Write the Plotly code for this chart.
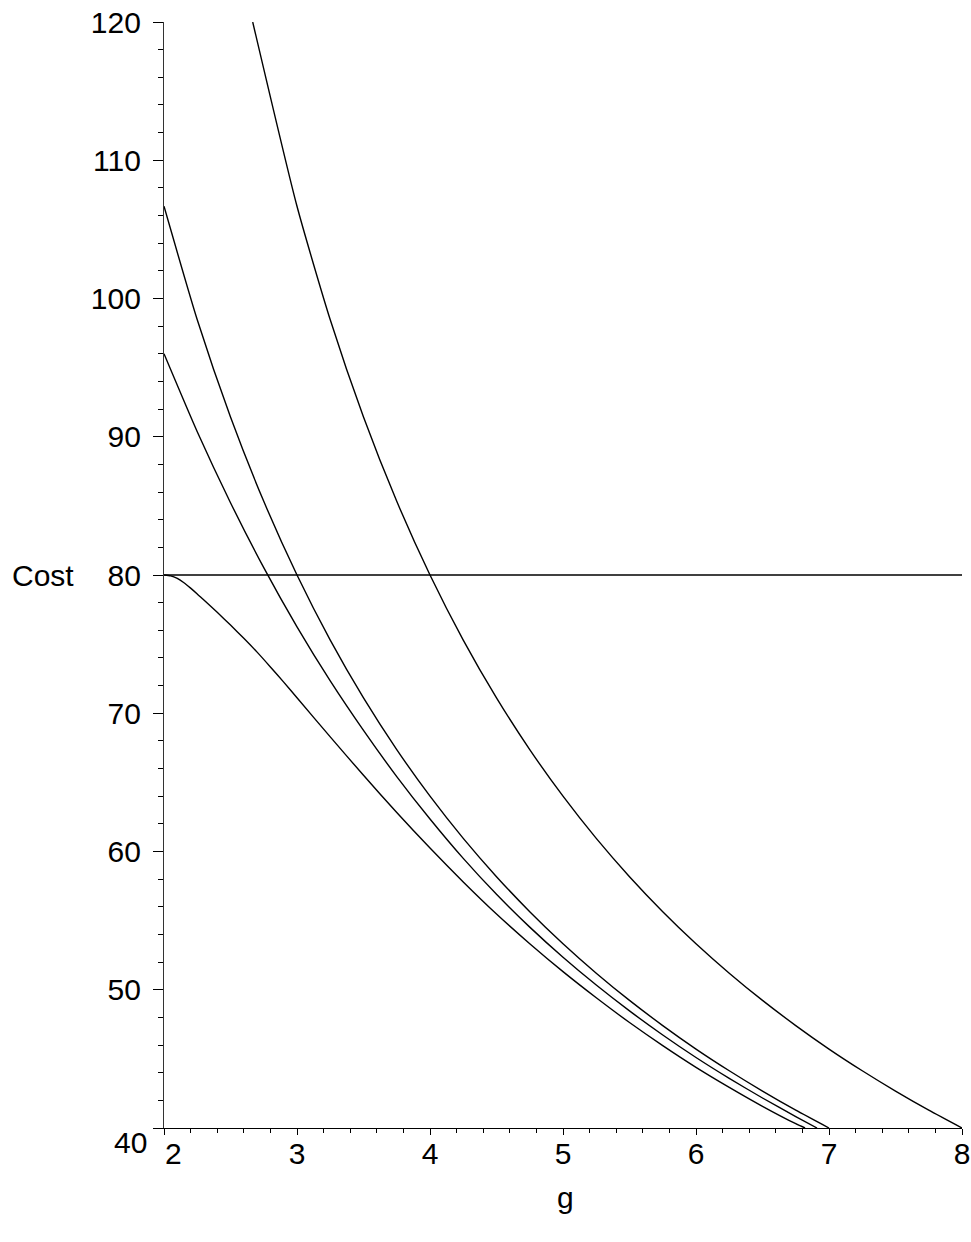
import plotly.graph_objects as go

# ---- data ----
g_a = [2.667, 3.0, 3.25, 3.5, 3.75, 4.0, 4.25, 4.5, 4.75, 5.0, 5.25, 5.5, 5.75,
       6.0, 6.25, 6.5, 6.75, 7.0, 7.25, 7.5, 7.75, 8.0]
cost_a = [120.0, 106.67, 98.46, 91.43, 85.33, 80.0, 75.29, 71.11, 67.37, 64.0,
          60.95, 58.18, 55.65, 53.33, 51.2, 49.23, 47.41, 45.71, 44.14, 42.67, 41.29, 40.0]

g_b = [2.0, 2.25, 2.5, 2.75, 3.0, 3.25, 3.5, 3.75, 4.0, 4.25, 4.5, 4.75, 5.0, 5.25,
       5.5, 5.75, 6.0, 6.25, 6.5, 6.75, 7.0]
cost_b = [106.67, 98.46, 91.43, 85.33, 80.0, 75.29, 71.11, 67.37, 64.0, 60.95, 58.18,
          55.65, 53.33, 51.2, 49.23, 47.41, 45.71, 44.14, 42.67, 41.29, 40.0]

g_c = [2.0, 2.25, 2.5, 2.75, 3.0, 3.25, 3.5, 3.75, 4.0, 4.25, 4.5, 4.75, 5.0, 5.25,
       5.5, 5.75, 6.0, 6.25, 6.5, 6.75, 6.91]
cost_c = [96.0, 90.36, 85.23, 80.53, 76.25, 72.34, 68.76, 65.42, 62.35, 59.5, 56.9,
          54.53, 52.35, 50.34, 48.47, 46.73, 45.1, 43.59, 42.17, 40.83, 40.0]

g_d = [2.0, 2.05, 2.1, 2.15, 2.2, 2.25, 2.3, 2.4, 2.5, 2.6, 2.7, 2.8, 2.9, 3.0,
       3.25, 3.5, 3.75, 4.0, 4.25, 4.5, 4.75, 5.0, 5.25, 5.5, 5.75, 6.0, 6.25,
       6.5, 6.75, 6.82]
cost_d = [80.0, 79.94, 79.75, 79.44, 79.05, 78.63, 78.19, 77.3, 76.38, 75.42, 74.42,
          73.35, 72.25, 71.12, 68.29, 65.51, 62.82, 60.25, 57.8, 55.48, 53.33, 51.31,
          49.42, 47.63, 45.96, 44.39, 42.94, 41.57, 40.31, 40.0]

g_h = [2.0, 8.0]
cost_h = [80.0, 80.0]

x_ticks = [2, 3, 4, 5, 6, 7, 8]
y_ticks = [40, 50, 60, 70, 80, 90, 100, 110, 120]

FONT = "Liberation Sans, Arial, Helvetica, sans-serif"
FS = 30

fig = go.Figure()
for gx, cy in [(g_h, cost_h), (g_a, cost_a), (g_b, cost_b), (g_c, cost_c), (g_d, cost_d)]:
    fig.add_trace(go.Scatter(x=gx, y=cy, mode="lines",
                             line=dict(color="black", width=1.4, shape="spline", smoothing=0.6),
                             showlegend=False, hoverinfo="skip"))

fig.update_layout(
    width=971, height=1242,
    margin=dict(l=164, r=9, t=22, b=114),
    paper_bgcolor="white", plot_bgcolor="white",
    font=dict(family=FONT, size=FS, color="black"),
    showlegend=False,
)
fig.update_xaxes(
    range=[2, 8], showgrid=False, zeroline=False, automargin=False,
    showline=True, linecolor="black", linewidth=1.2,
    ticks="outside", ticklen=6, tickwidth=1, tickcolor="black",
    tickvals=x_ticks, ticktext=["" if v == 2 else str(v) for v in x_ticks],
    ticklabelstandoff=-7, ticklabeloverflow="allow",
    minor=dict(ticks="outside", ticklen=4, dtick=0.2, tickcolor="black", showgrid=False),
    tickfont=dict(family=FONT, size=FS, color="black"),
)
fig.update_yaxes(
    range=[40, 120], showgrid=False, zeroline=False, automargin=False,
    showline=True, linecolor="#333333", linewidth=1.2,
    ticks="outside", ticklen=10, tickwidth=1, tickcolor="black",
    tickvals=y_ticks, ticktext=["" if v == 40 else str(v) for v in y_ticks],
    ticklabelstandoff=6, ticklabeloverflow="allow",
    minor=dict(ticks="outside", ticklen=5, dtick=2, tickcolor="black", showgrid=False),
    tickfont=dict(family=FONT, size=FS, color="black"),
)

fig.add_annotation(x=2, y=40, xref="x", yref="y", text="2", showarrow=False,
                   xanchor="center", yanchor="top", xshift=9, yshift=-7,
                   font=dict(family=FONT, size=FS, color="black"))
fig.add_annotation(x=2, y=40, xref="x", yref="y", text="40", showarrow=False,
                   xanchor="right", yanchor="middle", xshift=-15, yshift=-14,
                   font=dict(family=FONT, size=FS, color="black"))
fig.add_annotation(x=(10 - 164) / 798, y=80, xref="paper", yref="y", text="Cost",
                   showarrow=False, xanchor="left", yanchor="middle",
                   font=dict(family=FONT, size=FS, color="black"))
fig.add_annotation(x=(565 - 164) / 798, y=-(1197 - 1128) / 1106, xref="paper", yref="paper",
                   text="g", showarrow=False, xanchor="center", yanchor="middle",
                   font=dict(family=FONT, size=FS, color="black"))

# remove the default 8px page margin so the figure fills the window exactly
fig.write_html("out.html", config={"displayModeBar": False},
               post_script="document.body.style.margin='0';document.body.style.overflow='hidden';")
